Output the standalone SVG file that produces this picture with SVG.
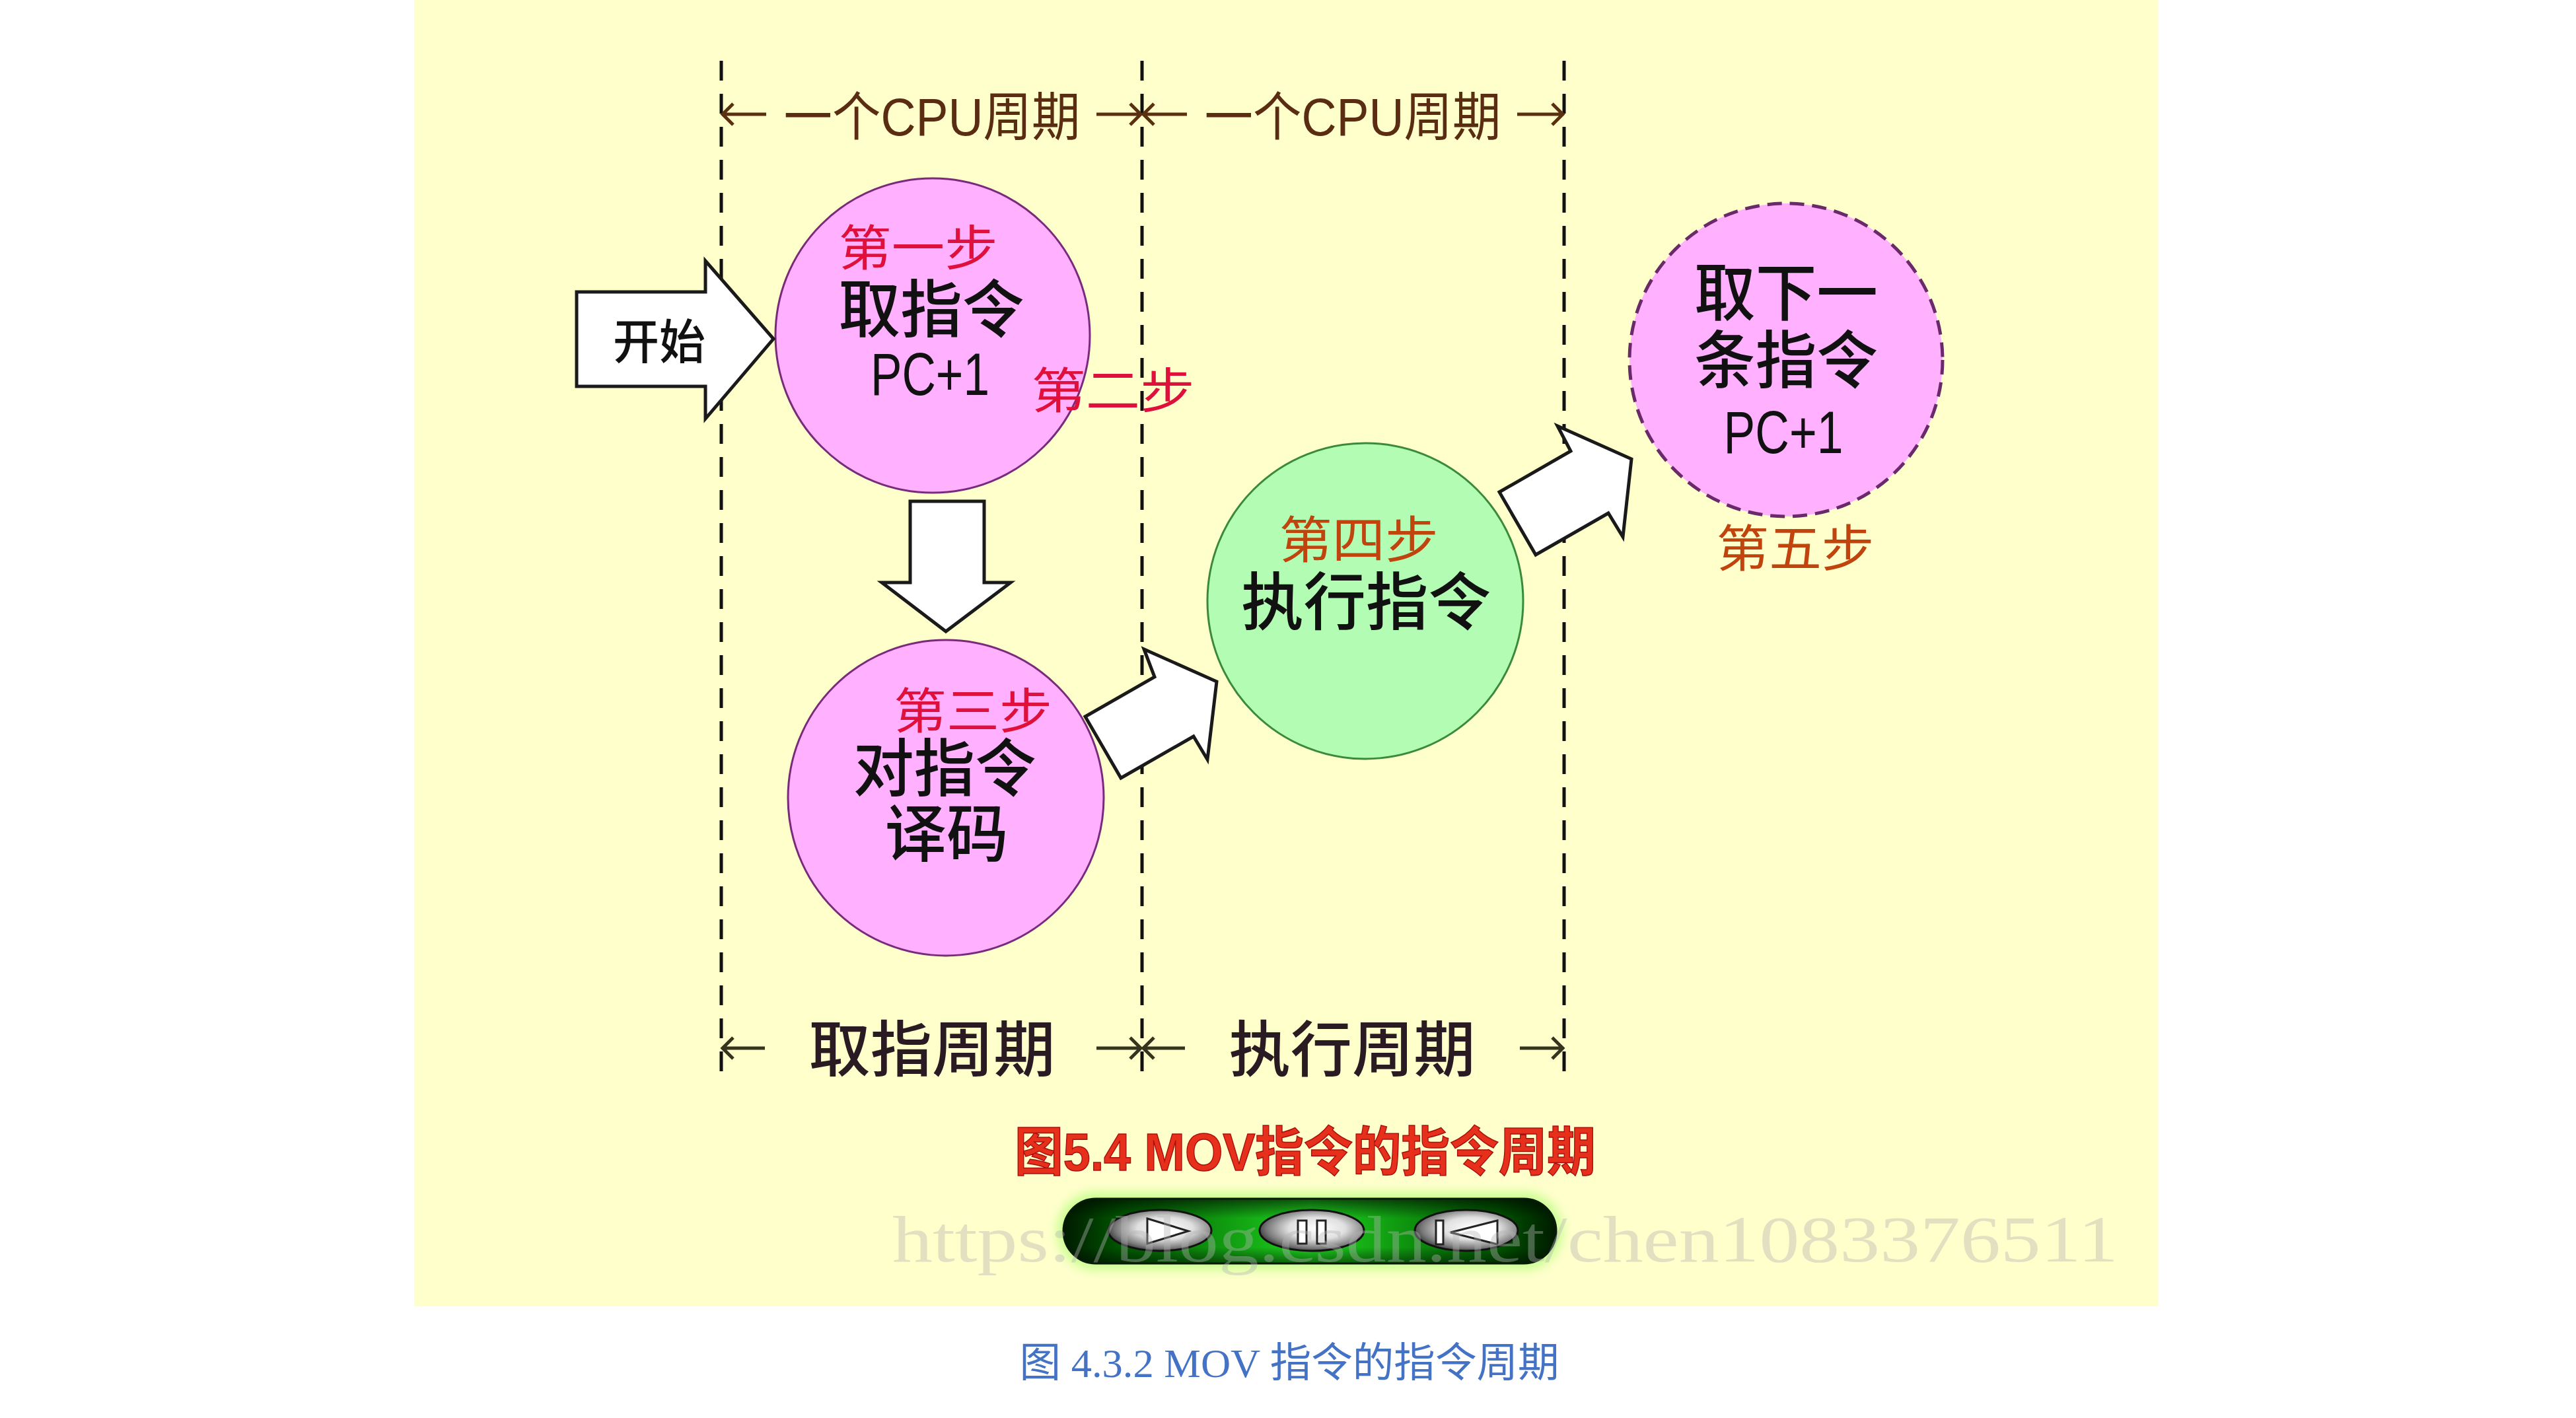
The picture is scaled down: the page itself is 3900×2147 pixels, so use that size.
<svg xmlns="http://www.w3.org/2000/svg" width="3900" height="2147" viewBox="0 0 3900 2147">
<defs>
<style>
.cjk{font-family:'Liberation Sans','Noto Sans CJK SC',sans-serif;}
.main{font-size:95px;fill:#111;font-weight:500;text-anchor:middle;}
.pc{font-size:90px;fill:#111;font-weight:500;text-anchor:middle;}
.step{font-size:74px;fill:#e0103c;text-anchor:middle;}
.step2{font-size:76px;fill:#c0440e;text-anchor:middle;}
.per{font-size:80px;fill:#5a2c12;text-anchor:middle;}
.per2{font-size:92px;fill:#2a1a22;font-weight:500;text-anchor:middle;}
.pink{fill:#ffb0ff;stroke:#7a2a7a;stroke-width:3;}
.green{fill:#b3fcb3;stroke:#3a8a3a;stroke-width:3;}
.blk{fill:#fff;stroke:#1a1a1a;stroke-width:5;stroke-linejoin:miter;}
.vline{stroke:#111;stroke-width:5;stroke-dasharray:30 20;fill:none;}
.dimT{stroke:#5a3010;stroke-width:5;fill:none;}
.dimB{stroke:#35351e;stroke-width:5;fill:none;}
.btn{stroke:#111;stroke-width:3;fill:url(#btnGrad);}
.ico{fill:#fff;stroke:#222;stroke-width:3;}
</style>
<linearGradient id="barGrad" x1="0" y1="0" x2="1" y2="0">
<stop offset="0" stop-color="#001a00"/>
<stop offset="0.12" stop-color="#005800"/>
<stop offset="0.5" stop-color="#1ed21e"/>
<stop offset="0.88" stop-color="#005800"/>
<stop offset="1" stop-color="#001a00"/>
</linearGradient>
<linearGradient id="barV" x1="0" y1="0" x2="0" y2="1">
<stop offset="0" stop-color="#000" stop-opacity="0.6"/>
<stop offset="0.3" stop-color="#000" stop-opacity="0"/>
<stop offset="0.75" stop-color="#000" stop-opacity="0"/>
<stop offset="1" stop-color="#000" stop-opacity="0.5"/>
</linearGradient>
<radialGradient id="btnGrad" cx="0.55" cy="0.45" r="0.6">
<stop offset="0" stop-color="#ffffff"/>
<stop offset="0.45" stop-color="#e0e0e0"/>
<stop offset="0.8" stop-color="#7a7a7a"/>
<stop offset="1" stop-color="#2a2a2a"/>
</radialGradient>
<filter id="glow" x="-10%" y="-50%" width="120%" height="200%">
<feGaussianBlur stdDeviation="8"/>
</filter>
</defs>

<rect x="627" y="0" width="2641" height="1978" fill="#ffffcc"/>

<g id="dashed-lines">
<line class="vline" x1="1092" y1="92" x2="1092" y2="1640"/>
<line class="vline" x1="1729" y1="92" x2="1729" y2="1640"/>
<line class="vline" x1="2368" y1="92" x2="2368" y2="1640"/>
</g>

<g id="period-labels">
<g class="dimT">
<path d="M1094 173 H1160 M1110 157 L1094 173 L1110 189"/>
<path d="M1660 173 H1727 M1711 157 L1727 173 L1711 189"/>
<path d="M1731 173 H1797 M1747 157 L1731 173 L1747 189"/>
<path d="M2297 173 H2366 M2350 157 L2366 173 L2350 189"/>
</g>
<text class="cjk per" x="1411" y="205" textLength="449" lengthAdjust="spacingAndGlyphs">一个CPU周期</text>
<text class="cjk per" x="2048" y="205" textLength="449" lengthAdjust="spacingAndGlyphs">一个CPU周期</text>
<g class="dimB">
<path d="M1094 1587 H1158 M1110 1571 L1094 1587 L1110 1603"/>
<path d="M1660 1587 H1727 M1711 1571 L1727 1587 L1711 1603"/>
<path d="M1731 1587 H1794 M1747 1571 L1731 1587 L1747 1603"/>
<path d="M2301 1587 H2366 M2350 1571 L2366 1587 L2350 1603"/>
</g>
<text class="cjk per2" x="1411" y="1622" textLength="373" lengthAdjust="spacingAndGlyphs">取指周期</text>
<text class="cjk per2" x="2047" y="1622" textLength="373" lengthAdjust="spacingAndGlyphs">执行周期</text>
</g>

<g id="node-fetch">
<circle class="pink" cx="1412" cy="508" r="238"/>
<text class="cjk main" x="1410" y="503" textLength="281" lengthAdjust="spacingAndGlyphs">取指令</text>
<text class="cjk pc" x="1408" y="598" textLength="180" lengthAdjust="spacingAndGlyphs">PC+1</text>
</g>

<g id="node-decode">
<circle class="pink" cx="1432" cy="1208" r="239"/>
<text class="cjk main" x="1430" y="1198" textLength="277" lengthAdjust="spacingAndGlyphs">对指令</text>
<text class="cjk main" x="1433" y="1297" textLength="187" lengthAdjust="spacingAndGlyphs">译码</text>
</g>

<g id="node-exec">
<circle class="green" cx="2067" cy="910" r="239"/>
<text class="cjk main" x="2068" y="946" textLength="378" lengthAdjust="spacingAndGlyphs">执行指令</text>
</g>

<g id="node-next">
<circle cx="2704" cy="545" r="237" fill="#ffb0ff" stroke="#6a2a6a" stroke-width="5" stroke-dasharray="22 12"/>
<text class="cjk main" x="2704" y="478" textLength="278" lengthAdjust="spacingAndGlyphs">取下一</text>
<text class="cjk main" x="2704" y="580" textLength="278" lengthAdjust="spacingAndGlyphs">条指令</text>
<text class="cjk pc" x="2700" y="686" textLength="181" lengthAdjust="spacingAndGlyphs">PC+1</text>
</g>

<g id="connectors">
<path id="node-start" class="blk" d="M873 442 H1068 V395 L1171 513 L1068 634 V585 H873 Z"/>
<path class="blk" d="M1378 759 H1490 V882 H1530 L1432 956 L1335 882 H1378 Z"/>
<path class="blk" d="M1643 1085 L1748 1025 L1732 983 L1842 1032 L1828 1150 L1807 1115 L1697 1178 Z"/>
<path class="blk" d="M2270 745 L2378 683 L2358 645 L2470 695 L2457 813 L2435 777 L2325 840 Z"/>
</g>

<g id="start-label">
<text class="cjk" x="998" y="543" font-size="72" fill="#111" font-weight="500" text-anchor="middle" textLength="140" lengthAdjust="spacingAndGlyphs">开始</text>
</g>

<g id="step-labels">
<text class="cjk step" x="1390" y="402" textLength="241" lengthAdjust="spacingAndGlyphs">第一步</text>
<text class="cjk step" x="1685" y="618" textLength="247" lengthAdjust="spacingAndGlyphs">第二步</text>
<text class="cjk step" x="1473" y="1103" textLength="240" lengthAdjust="spacingAndGlyphs">第三步</text>
<text class="cjk step2" x="2057" y="845" textLength="241" lengthAdjust="spacingAndGlyphs">第四步</text>
<text class="cjk step2" x="2718" y="858" textLength="239" lengthAdjust="spacingAndGlyphs">第五步</text>
</g>

<text class="cjk" x="1976" y="1772" font-size="80" font-weight="bold" fill="#e6301c" stroke="#a81010" stroke-width="1.5" text-anchor="middle" textLength="880" lengthAdjust="spacingAndGlyphs">图5.4 MOV指令的指令周期</text>

<g id="controller">
<rect x="1600" y="1805" width="766" height="118" rx="59" fill="#c8ff90" filter="url(#glow)"/>
<rect x="1610" y="1815" width="746" height="98" rx="49" fill="url(#barGrad)"/>
<rect x="1610" y="1815" width="746" height="98" rx="49" fill="url(#barV)" stroke="#0a1a0a" stroke-width="3"/>
<ellipse class="btn" cx="1756" cy="1863" rx="78" ry="31"/>
<ellipse class="btn" cx="1986" cy="1863" rx="79" ry="31"/>
<ellipse class="btn" cx="2220" cy="1863" rx="78" ry="31"/>
<path class="ico" d="M1737 1845 L1799 1864 L1737 1883 Z"/>
<rect class="ico" x="1965" y="1848" width="13" height="35"/>
<rect class="ico" x="1994" y="1848" width="13" height="35"/>
<rect class="ico" x="2174" y="1848" width="11" height="36"/>
<path class="ico" d="M2267 1848 L2196 1866 L2267 1884 Z"/>
</g>

<text x="2279" y="1910" font-family="'Liberation Serif',serif" font-size="100" fill="#b4b4b4" fill-opacity="0.4" text-anchor="middle" textLength="1856" lengthAdjust="spacingAndGlyphs">https://blog.csdn.net/chen1083376511</text>

<text x="1952" y="2085" font-family="'Liberation Serif','Noto Sans CJK SC',serif" font-size="62" fill="#4472c4" text-anchor="middle" textLength="817" lengthAdjust="spacingAndGlyphs">图 4.3.2 MOV 指令的指令周期</text>
</svg>
